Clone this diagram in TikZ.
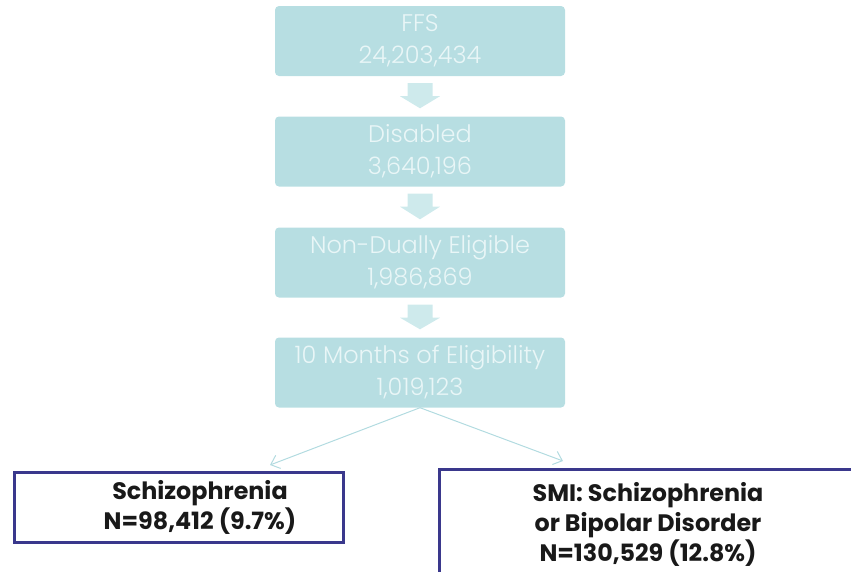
\documentclass[tikz,border=0pt]{standalone}
\usepackage{fontspec}
\setmainfont{Poppins}
\newfontfamily\thinfont{Poppins}[UprightFont={* Light}]
\usetikzlibrary{calc,arrows.meta}
\definecolor{powder}{RGB}{183, 222, 226}
\definecolor{frost}{RGB}{233, 246, 247}
\definecolor{mist}{RGB}{206, 234, 236}
\definecolor{seafoam}{RGB}{178, 219, 224}
\definecolor{navyink}{RGB}{58, 56, 140}

% block arrow in the gap between two stages
\newcommand{\blockarrow}[2]{%
    \fill[mist] ($(#1.south)+(-12.5,7)$) -- ($(#1.south)+(12.5,7)$) -- ($(#1.south)+(12.5,20)$)
        -- ($(#1.south)+(20,20)$) -- ($(#2.north)+(0,-8)$) -- ($(#1.south)+(-20,20)$)
        -- ($(#1.south)+(-12.5,20)$) -- cycle;}

\begin{document}
\begin{tikzpicture}[x=1pt, y=-1pt,
    stage/.style={rectangle, rounded corners=4pt, fill=powder, text=frost, minimum width=290pt,
                  minimum height=70pt, align=center, font=\thinfont\fontsize{24}{32}\selectfont},
    result/.style={rectangle, draw=navyink, line width=3pt, fill=white, align=center,
                   text=black!90, font=\bfseries\fontsize{23.8}{30}\selectfont},
    split/.style={seafoam, line width=1pt, -{Straight Barb[length=8pt, width=14pt]}}]
            \useasboundingbox (0,0) rectangle (851,571);
            \clip (0,0) rectangle (851,571);
            \node[stage]  (ffs)      at (420, 41.0) {FFS\\24,203,434};
            \node[stage]  (disabled) at (420,151.5) {Disabled\\3,640,196};
            \node[stage]  (nondual)  at (420,262.5) {Non-Dually Eligible\\1,986,869};
            \node[stage]  (tenmonth) at (420,372.5) {10 Months of Eligibility\\1,019,123};
            \blockarrow{ffs}{disabled}
            \blockarrow{disabled}{nondual}
            \blockarrow{nondual}{tenmonth}
            \node[result, minimum width=329pt, minimum height=70pt]  (schiz) at (179,507.5)
                 {\hspace*{42pt}Schizophrenia\\\hspace*{42pt}N=98,412 (9.7\%)};
            \node[result, minimum width=417pt, minimum height=110pt] (smi)   at (648,524.5)
                 {SMI: Schizophrenia\\or Bipolar Disorder\\N=130,529 (12.8\%)};
            \draw[split] (tenmonth.south) -- ([xshift=91pt, yshift=6pt]schiz.north);
            \draw[split] (tenmonth.south) -- ([xshift=-85pt, yshift=7pt]smi.north);
\end{tikzpicture}
\end{document}
